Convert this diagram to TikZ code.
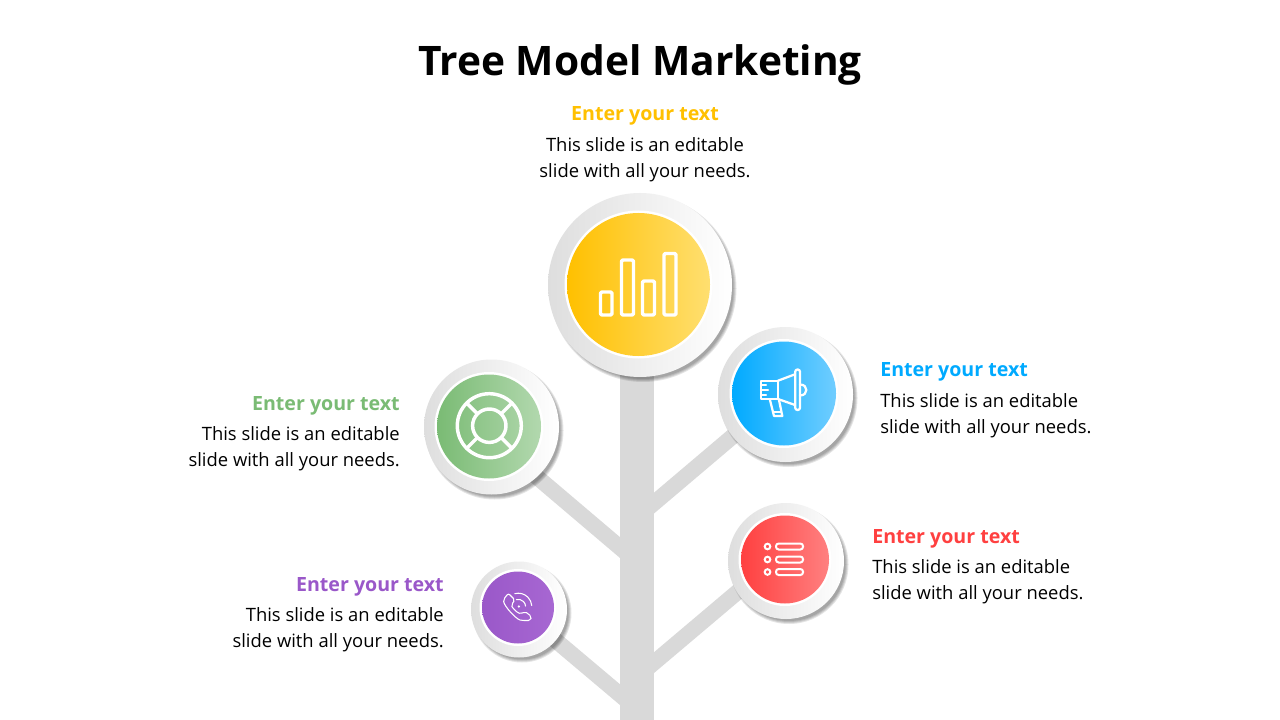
\documentclass[tikz,border=0pt]{standalone}
\usepackage{fontspec}
\setmainfont{Open Sans}
\definecolor{trunkgray}{HTML}{D9D9D9}
\definecolor{ringgray}{HTML}{DEDEDE}
\definecolor{ringmid}{HTML}{F4F4F4}
\definecolor{cyellow}{HTML}{FFC000}
\definecolor{cblue}{HTML}{00AAFF}
\definecolor{cgreen}{HTML}{7ABB74}
\definecolor{cpurple}{HTML}{9A58C9}
\definecolor{cred}{HTML}{FF4040}
\definecolor{eyellow}{HTML}{FFDF70}
\definecolor{eblue}{HTML}{70CDFF}
\definecolor{egreen}{HTML}{B2D8AE}
\definecolor{epurple}{HTML}{A767D2}
\definecolor{ered}{HTML}{FF8080}
\tikzset{
  branchline/.style={trunkgray,line width=11.9pt,line cap=butt},
  heading/.style={font=\fontsize{14.7}{18}\selectfont\bfseries,inner sep=0pt},
  body/.style={font=\fontsize{13.8}{19.5}\selectfont,inner sep=0pt,text=black},
  icon/.style={white,line width=2.6pt,line join=round,line cap=round},
  thinicon/.style={white,line width=0.8pt,line join=round,line cap=round},
}
\newcommand{\medal}[9]{%
  \foreach \k in {0,1,2,3}{%
    \fill[black,opacity=0.10] ({#2+3},{#3+3.5}) circle[radius={#4+1.5-\k}];
  }
  \node[circle,inner sep=0pt,minimum size={2*#4*0.75pt},left color=ringgray,middle color=ringmid,right color=white] (#1out) at (#2,#3) {};
  \node[circle,inner sep=0pt,minimum size={(2*#7+5)*0.75pt},fill=white] (#1ring) at (#5,#6) {};
  \node[circle,inner sep=0pt,minimum size={2*#7*0.75pt},left color=#8,right color=#9] (#1) at (#5,#6) {};
}
\begin{document}
\begin{tikzpicture}[x=0.75pt,y=-0.75pt]
\useasboundingbox (0,0) rectangle (1280,720);
\fill[white] (0,0) rectangle (1280,720);
% tree
\coordinate (tgl) at (637,562);
\coordinate (tgp) at (637,709);
\coordinate (tgb) at (637,517.5);
\coordinate (tgr) at (637,677);
\coordinate (egl) at (491,438);
\coordinate (epp) at (519,609.5);
\coordinate (ebl) at (785,392);
\coordinate (erd) at (786,551);
\draw[branchline] (tgl) -- (egl);
\draw[branchline] (tgp) -- (epp);
\draw[branchline] (tgb) -- (ebl);
\draw[branchline] (tgr) -- (erd);
\fill[trunkgray] (620,360) rectangle (654,720);
% medals
\medal{green}{491.5}{427}{67.5}{489}{426.5}{52}{cgreen}{egreen}
\medal{purple}{519}{609.5}{48}{518}{607.5}{36}{cpurple}{epurple}
\medal{blue}{785.5}{394.5}{67.5}{784}{393.5}{52}{cblue}{eblue}
\medal{red}{786}{561}{58}{785}{559.5}{44}{cred}{ered}
\medal{yellow}{640}{285}{92}{638.5}{284.5}{71.5}{cyellow}{eyellow}
% bars icon
\begin{scope}[icon]
\draw[rounded corners=1pt] (600.5,292) rectangle (612,315);
\draw[rounded corners=1pt] (621.5,260) rectangle (633.5,315);
\draw[rounded corners=1pt] (642.5,281) rectangle (654.5,315);
\draw[rounded corners=1pt] (664,253.5) rectangle (676,315);
\end{scope}
% megaphone
\begin{scope}[white,line width=1.7pt,line join=round,line cap=round]
\draw (778,380.7) -- (760.7,380.7) -- (760.7,399) -- (778,399) -- cycle;
\draw (778,380.7) -- (795,374.3);
\draw (778,399) -- (795,405);
\draw[rounded corners=1.7pt] (795.2,369.5) rectangle (800,410);
\draw (800,384.5) .. controls (808.5,384.5) and (808.5,395.5) .. (800,395.5);
\draw (770,400) -- (774,416) -- (782.3,416) -- (779,400);
\draw (773,411.7) -- (781,411.7);
\draw (761,385) -- (766,385);
\draw (761,390) -- (768,390);
\draw (761,395) -- (766,395);
\end{scope}
% lifebuoy
\begin{scope}[icon]
\draw (489.3,425.7) circle[radius=32];
\draw (489.3,425.7) circle[radius=16.7];
\draw (477.5,413.9) -- (466.7,403.1);
\draw (501.1,413.9) -- (511.9,403.1);
\draw (477.5,437.5) -- (466.7,448.3);
\draw (501.1,437.5) -- (511.9,448.3);
\end{scope}
% phone
\begin{scope}[thinicon]
\draw[rounded corners=1.5pt] (508.3,593.3) -- (503.5,599.5) .. controls (504,606) and (516,619) .. (522,620.5) -- (530.5,620.5) -- (531.5,616.5) -- (525,611.5) -- (521,614) .. controls (516,612) and (512,607) .. (511.5,604.5) -- (515,600) -- cycle;
\draw (518.3,606.7) ++(-105:7.3) arc[start angle=-105,end angle=-5,radius=7.3];
\draw (518.3,606.7) ++(-105:13.5) arc[start angle=-105,end angle=-5,radius=13.5];
\fill[white] (518.8,606.5) circle[radius=1.3];
\end{scope}
% list icon
\begin{scope}[white,line width=1.5pt]
\draw (767.5,546.5) circle[radius=2.8];
\draw (767.5,559.5) circle[radius=2.8];
\draw (767.5,572) circle[radius=2.8];
\draw[rounded corners=2pt] (776,543.5) rectangle (803,549.5);
\draw[rounded corners=2pt] (776,556.5) rectangle (803,562.5);
\draw[rounded corners=2pt] (776,569) rectangle (803,575);
\end{scope}
% text
\node[font=\fontsize{30.5}{36}\selectfont\bfseries,inner sep=0pt,text=black] (title) at (640,64.5) {Tree Model Marketing};
\node[heading,text=cyellow] (hy) at (645,116) {Enter your text};
\node[body,align=center] (by) at (645,159.5) {This slide is an editable\\slide with all your needs.};
\node[heading,text=cblue,anchor=west] (hb) at (880,372) {Enter your text};
\node[body,align=left,anchor=west] (bb) at (880,415.5) {This slide is an editable\\slide with all your needs.};
\node[heading,text=cgreen,anchor=east] (hg) at (400,406) {Enter your text};
\node[body,align=right,anchor=east] (bg) at (400,448.5) {This slide is an editable\\slide with all your needs.};
\node[heading,text=cpurple,anchor=east] (hp) at (444,587) {Enter your text};
\node[body,align=right,anchor=east] (bp) at (444,629.5) {This slide is an editable\\slide with all your needs.};
\node[heading,text=cred,anchor=west] (hr) at (872,539) {Enter your text};
\node[body,align=left,anchor=west] (br) at (872,581.5) {This slide is an editable\\slide with all your needs.};
\end{tikzpicture}
\end{document}
